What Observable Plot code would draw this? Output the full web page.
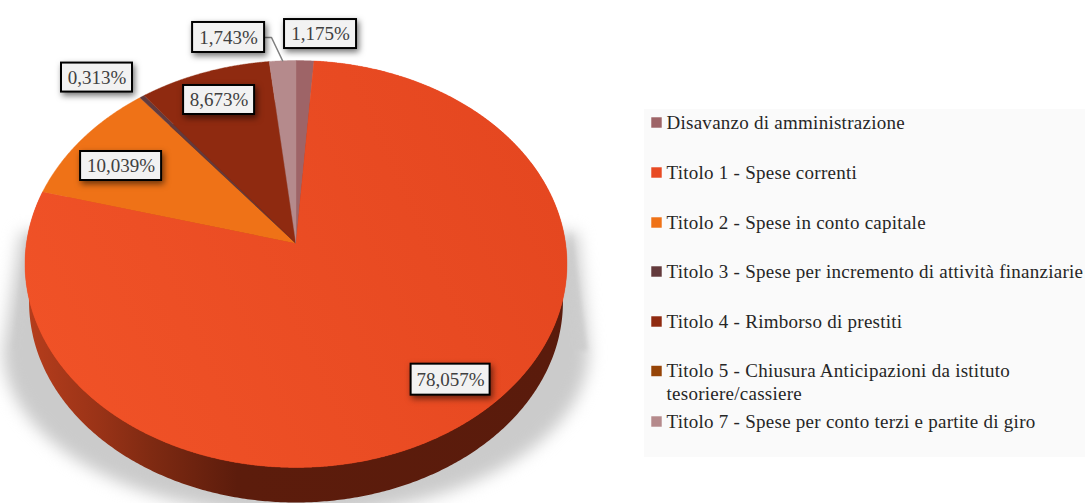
<!DOCTYPE html>
<html><head><meta charset="utf-8">
<script src="https://cdn.jsdelivr.net/npm/d3@7"></script>
<script src="https://cdn.jsdelivr.net/npm/@observablehq/plot@0.6"></script>
<style>html,body{margin:0;padding:0;background:#fff}svg{display:block}.legendText text{letter-spacing:.26px}</style>
</head><body><div id="chart"></div>
<script>
// ---- data ----
const names = ["Disavanzo di amministrazione","Titolo 1 - Spese correnti","Titolo 2 - Spese in conto capitale","Titolo 3 - Spese per incremento di attività finanziarie","Titolo 4 - Rimborso di prestiti","Titolo 5 - Chiusura Anticipazioni da istituto tesoriere/cassiere","Titolo 7 - Spese per conto terzi e partite di giro"];
const values = [1.175,78.057,10.039,0.313,8.673,0,1.743];
const colors = ["#9e6467","#e84a23","#ef7217","#633a3c","#8f2a10","#964407","#b58a8c"];
const legendLines = [["Disavanzo di amministrazione",0],["Titolo 1 - Spese correnti",1],["Titolo 2 - Spese in conto capitale",2],["Titolo 3 - Spese per incremento di attività finanziarie",3],["Titolo 4 - Rimborso di prestiti",4],["Titolo 5 - Chiusura Anticipazioni da istituto",5],["tesoriere/cassiere",null],["Titolo 7 - Spese per conto terzi e partite di giro",6]];

// ---- layout (pixels) ----
const W = 1085, H = 503, CX = 295.5, CY = 243, RX = 269.6, RY = 201.4, K = 0.1007;
const legendRowY = [122,172,222,271,321,370.5,393,421];
const labelNudge = {0:[15.5,-26.6],1:[-15,-43],2:[38.6,27.3],3:[-45,-19],4:[15,27.4],6:[-54,-23.3]};
const labelSize = {0:[72,29],1:[79,31],2:[81,29],3:[71,29],4:[71,29],6:[72,30]};

// ---- geometry in pie units ----
const ux = px => (px - CX) / RX, uy = py => (CY - py) / RY;
const proj = (deg, scale = 1, shift = 0) => {
  const a = deg * Math.PI / 180, u = Math.sin(a), v = Math.cos(a), d = 1 + K * v;
  return {x: scale * u / d, y: scale * v / d - shift / RY};
};
let acc = 0;
const slices = names.map((name, i) => {
  const start = acc / 100 * 360; acc += values[i];
  const end = acc / 100 * 360;
  return {name, i, value: values[i], start, end, mid: (start + end) / 2};
});
const slicePts = slices.filter(s => s.value > 0).flatMap(s => {
  const pts = [{x: 0, y: 0, name: s.name}];
  const n = Math.max(2, Math.ceil((s.end - s.start) / 0.25));
  for (let j = 0; j <= n; j++) pts.push({...proj(s.start + (s.end - s.start) * j / n), name: s.name});
  pts.push({x: 0, y: 0, name: s.name});
  return pts;
});
const side = d3.range(0, 361, 0.5).map(a => proj(a, 0.985, 38.4));
// soft shadow: lower ellipse, opening upward to the pie's widest points
const shadow = [{x: ux(20), y: uy(232)}];
for (let a = -90; a <= 90; a += 1) {
  const r = a * Math.PI / 180;
  shadow.push({x: ux(CX + 293 * Math.sin(r)), y: uy(350 + 165 * Math.cos(r))});
}
shadow.push({x: ux(577), y: uy(232)});
const wedge = [[26,230,0],[12,350,0],[40,350,0],[571,230,1],[587,350,1],[555,350,1]].map(([px,py,side]) => ({x: ux(px), y: uy(py), side}));

const fmt = v => v.toFixed(3).replace(".", ",") + "%";
const labels = slices.filter(s => s.value > 0).map(s => {
  const p = proj(s.mid), [nx, ny] = labelNudge[s.i], [w, h] = labelSize[s.i];
  const x = p.x + nx / RX, y = p.y - ny / RY;
  return {text: fmt(s.value), x, y, x1: x - w / 2 / RX, x2: x + w / 2 / RX, y1: y - h / 2 / RY, y2: y + h / 2 / RY};
});
const t7 = slices[6], t7rim = proj(t7.mid), t7lab = labels[labels.length - 1];
const leader = [t7rim, {x: ux(271), y: t7lab.y}, {x: t7lab.x2, y: t7lab.y}];
const legendData = legendLines.map(([text, idx], k) => ({text, idx, name: idx == null ? null : names[idx], x: ux(666), y: uy(legendRowY[k])}));
const font = "'Liberation Serif', serif";

const defs = () => {
  const s = d3.create("svg:defs");
  const g1 = s.append("linearGradient").attr("id", "sideG").attr("gradientUnits", "userSpaceOnUse")
    .attr("x1", 28).attr("x2", 563).attr("y1", 0).attr("y2", 0);
  [[0,"#b53d1c"],[0.13,"#9a3317"],[0.23,"#7f2a12"],[0.39,"#5c1c0c"],[1,"#5a1b0c"]].forEach(([o,c]) => g1.append("stop").attr("offset", o).attr("stop-color", c));
  const g2 = s.append("linearGradient").attr("id", "faceG").attr("gradientUnits", "userSpaceOnUse")
    .attr("x1", 60).attr("y1", 420).attr("x2", 560).attr("y2", 200);
  [[0,"#f05227"],[1,"#e54720"]].forEach(([o,c]) => g2.append("stop").attr("offset", o).attr("stop-color", c));
  return s.node();
};

const chart = Plot.plot({
  width: W, height: H, margin: 0,
  style: {background: "#fff", overflow: "hidden"},
  x: {axis: null, domain: [ux(0), ux(W)], range: [0, W]},
  y: {axis: null, domain: [uy(H), uy(0)], range: [H, 0]},
  color: {domain: names, range: colors},
  marks: [
    defs,
    Plot.rect([{x1: ux(644), x2: ux(W), y1: uy(457), y2: uy(109)}], {x1: "x1", x2: "x2", y1: "y1", y2: "y2", fill: "#fafafa"}),
    Plot.line(wedge, {x: "x", y: "y", z: "side", fill: "#d6d6d6", stroke: "none", imageFilter: "blur(2px)"}),
    Plot.line(shadow, {x: "x", y: "y", fill: "#cbcbcb", stroke: "none", imageFilter: "blur(8px)"}),
    Plot.line(side, {x: "x", y: "y", fill: "url(#sideG)", stroke: "none"}),
    Plot.line(slicePts, {x: "x", y: "y", z: "name", fill: "name", stroke: "name", strokeWidth: 0.4}),
    Plot.line(slicePts.filter(d => d.name === names[1]), {x: "x", y: "y", fill: "url(#faceG)", stroke: "none"}),
    Plot.line(leader, {x: "x", y: "y", stroke: "#7f7f7f", strokeWidth: 1.5}),
    Plot.rect(labels, {x1: "x1", x2: "x2", y1: "y1", y2: "y2", fill: "#f2f2f2", stroke: "#000", strokeWidth: 2, imageFilter: "drop-shadow(2px 3px 3px rgba(0,0,0,0.55))"}),
    Plot.text(labels, {x: "x", y: "y", text: "text", fill: "#404040", fontFamily: font, fontSize: 19}),
    Plot.dot(legendData.filter(d => d.name), {x: () => ux(656), y: "y", fill: "name", symbol: "square", r: 5.9}),
    Plot.text(legendData, {x: "x", y: "y", text: "text", textAnchor: "start", fill: "#262626", fontFamily: font, fontSize: 19, className: "legendText"})
  ]
});
document.getElementById("chart").appendChild(chart);
</script></body></html>
